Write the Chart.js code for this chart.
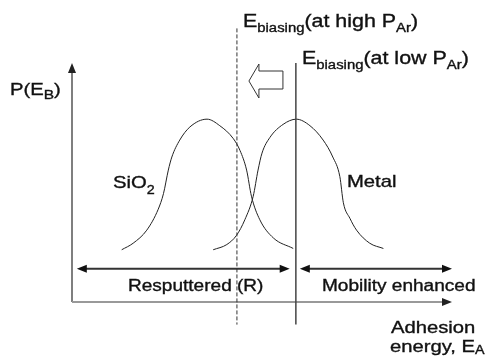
<!DOCTYPE html>
<html>
<head>
<meta charset="utf-8">
<script src="https://cdn.jsdelivr.net/npm/chart.js@4"></script>
<style>
html, body { margin: 0; padding: 0; background: #fff; }
</style>
</head>
<body>
<canvas id="dist" width="492" height="358"></canvas>
<script>
// adhesion energy (arb. units) and P(E_B)
const sio2Energy = [1.13, 1.39, 1.70, 1.96, 2.08, 2.19, 2.27, 2.45, 2.68, 3.07, 3.36, 3.67, 3.82, 3.97, 4.08, 4.27, 4.58, 5.03]
const sio2Prob = [0.0, 0.05, 0.15, 0.31, 0.43, 0.61, 0.71, 0.84, 0.94, 1.0, 0.95, 0.85, 0.76, 0.61, 0.41, 0.23, 0.09, 0.01]
const metalEnergy = [3.21, 3.52, 3.74, 3.93, 4.12, 4.23, 4.32, 4.50, 4.80, 5.10, 5.41, 5.71, 5.93, 6.09, 6.17, 6.32, 6.47, 6.77, 7.08]
const metalProb = [0.0, 0.04, 0.11, 0.23, 0.41, 0.61, 0.74, 0.86, 0.96, 1.0, 0.95, 0.84, 0.71, 0.56, 0.36, 0.24, 0.15, 0.05, 0.01]

// biasing energy at high P_Ar (dashed) and at low P_Ar (solid)
const biasEnergy = [3.75, 5.09]

// ranges marked under the curves
const regionNames = ["Resputtered (R)", "Mobility enhanced"]
const regionFrom = [0.11, 5.18]
const regionTo = [4.95, 8.64]

const xMax = 8.64
const yMin = -0.4
const yMax = 1.43

const SX = 1.19   // the figure's text is a bit stretched sideways
const FONT = '"Liberation Sans", Arial, sans-serif'

function label(ctx, parts, x, y) {
    ctx.save()
    ctx.translate(x, y)
    ctx.scale(SX, 1)
    ctx.fillStyle = "#111"
    ctx.strokeStyle = "#111"
    ctx.lineWidth = 0.35
    ctx.textBaseline = "alphabetic"
    let cx = 0
    for (const [str, size, dy] of parts) {
        ctx.font = size + "px " + FONT
        ctx.fillText(str, cx, dy || 0)
        ctx.strokeText(str, cx, dy || 0)
        cx += ctx.measureText(str).width
    }
    ctx.restore()
}

// filled arrow head, tip at (x, y), pointing along (dx, dy)
function head(ctx, x, y, dx, dy, color) {
    const L = 10, W = 4
    ctx.fillStyle = color
    ctx.beginPath()
    ctx.moveTo(x, y)
    ctx.lineTo(x - dx * L - dy * W, y - dy * L + dx * W)
    ctx.lineTo(x - dx * L + dy * W, y - dy * L - dx * W)
    ctx.closePath()
    ctx.fill()
}

function line(ctx, x1, y1, x2, y2, color, width, dash) {
    ctx.save()
    ctx.strokeStyle = color
    ctx.lineWidth = width
    ctx.setLineDash(dash || [])
    ctx.beginPath()
    ctx.moveTo(x1, y1)
    ctx.lineTo(x2, y2)
    ctx.stroke()
    ctx.restore()
}

const schematic = {
    id: "schematic",
    afterDraw(chart) {
        const ctx = chart.ctx
        const xs = chart.scales.x, ys = chart.scales.y
        const x0 = xs.getPixelForValue(0), x1 = xs.getPixelForValue(xMax)
        const yb = ys.getPixelForValue(yMin), yt = ys.getPixelForValue(yMax)

        // axes
        line(ctx, x0, yb, x0, yt + 6, "#555", 1.5)
        head(ctx, x0, yt, 0, -1, "#222")
        line(ctx, x0, yb, x1 - 6, yb, "#999", 2)
        head(ctx, x1, yb, 1, 0, "#222")

        // biasing energies
        const yLow = ys.getPixelForValue(-0.573)
        const xd = xs.getPixelForValue(biasEnergy[0])
        const xsol = xs.getPixelForValue(biasEnergy[1])
        line(ctx, xd, ys.getPixelForValue(1.695), xd, yLow, "#333", 1, [4, 2])
        line(ctx, xsol, yt, xsol, yLow, "#444", 1.5)

        // shift arrow (hollow, pointing left)
        const ay = 81, tip = xd + 12
        ctx.save()
        ctx.strokeStyle = "#333"
        ctx.lineWidth = 1
        ctx.fillStyle = "#fff"
        ctx.beginPath()
        ctx.moveTo(tip, ay)
        ctx.lineTo(tip + 10, ay - 17)
        ctx.lineTo(tip + 10, ay - 10)
        ctx.lineTo(tip + 34, ay - 10)
        ctx.lineTo(tip + 34, ay + 8)
        ctx.lineTo(tip + 10, ay + 8)
        ctx.lineTo(tip + 10, ay + 17)
        ctx.closePath()
        ctx.fill()
        ctx.stroke()
        ctx.restore()

        // region arrows
        const yr = ys.getPixelForValue(-0.145)
        for (let i = 0; i < regionNames.length; i++) {
            const a = xs.getPixelForValue(regionFrom[i]), b = xs.getPixelForValue(regionTo[i])
            line(ctx, a + 6, yr, b - 6, yr, "#333", 2)
            head(ctx, a, yr, -1, 0, "#111")
            head(ctx, b, yr, 1, 0, "#111")
        }

        // text
        label(ctx, [["P(E", 17], ["B", 13, 4], [")", 17]], 10, 95)
        label(ctx, [["E", 18], ["biasing", 12.5, 5], ["(at high P", 18], ["Ar", 12.5, 5], [")", 18]], 243, 27)
        label(ctx, [["E", 18], ["biasing", 12.5, 5], ["(at low P", 18], ["Ar", 12.5, 5], [")", 18]], 302, 64)
        label(ctx, [["SiO", 17], ["2", 12, 6]], 113, 188)
        label(ctx, [["Metal", 17]], 347, 187)
        label(ctx, [[regionNames[0], 16]], 128, 291)
        label(ctx, [[regionNames[1], 16]], 322, 291)
        label(ctx, [["Adhesion", 17]], 391, 333)
        label(ctx, [["energy, E", 17], ["A", 12, 2]], 390, 352)
    }
}

document.addEventListener("DOMContentLoaded", () => {
    const toPoints = (xs, ys) => xs.map((x, i) => ({ x: x, y: ys[i] }))
    const curve = {
        borderColor: "#222",
        borderWidth: 1,
        pointRadius: 0,
        fill: false,
        cubicInterpolationMode: "monotone"
    }
    const config = {
        type: "line",
        data: {
            datasets: [
                Object.assign({ label: "SiO2", data: toPoints(sio2Energy, sio2Prob) }, curve),
                Object.assign({ label: "Metal", data: toPoints(metalEnergy, metalProb) }, curve)
            ]
        },
        options: {
            responsive: false,
            animation: false,
            layout: { padding: { left: 72, right: 40, top: 63, bottom: 56 } },
            plugins: { legend: { display: false }, tooltip: { enabled: false } },
            scales: {
                x: { type: "linear", min: 0, max: xMax, display: false },
                y: { min: yMin, max: yMax, display: false }
            }
        },
        plugins: [schematic]
    }
    new Chart(document.getElementById("dist"), config)
})
</script>
</body>
</html>
